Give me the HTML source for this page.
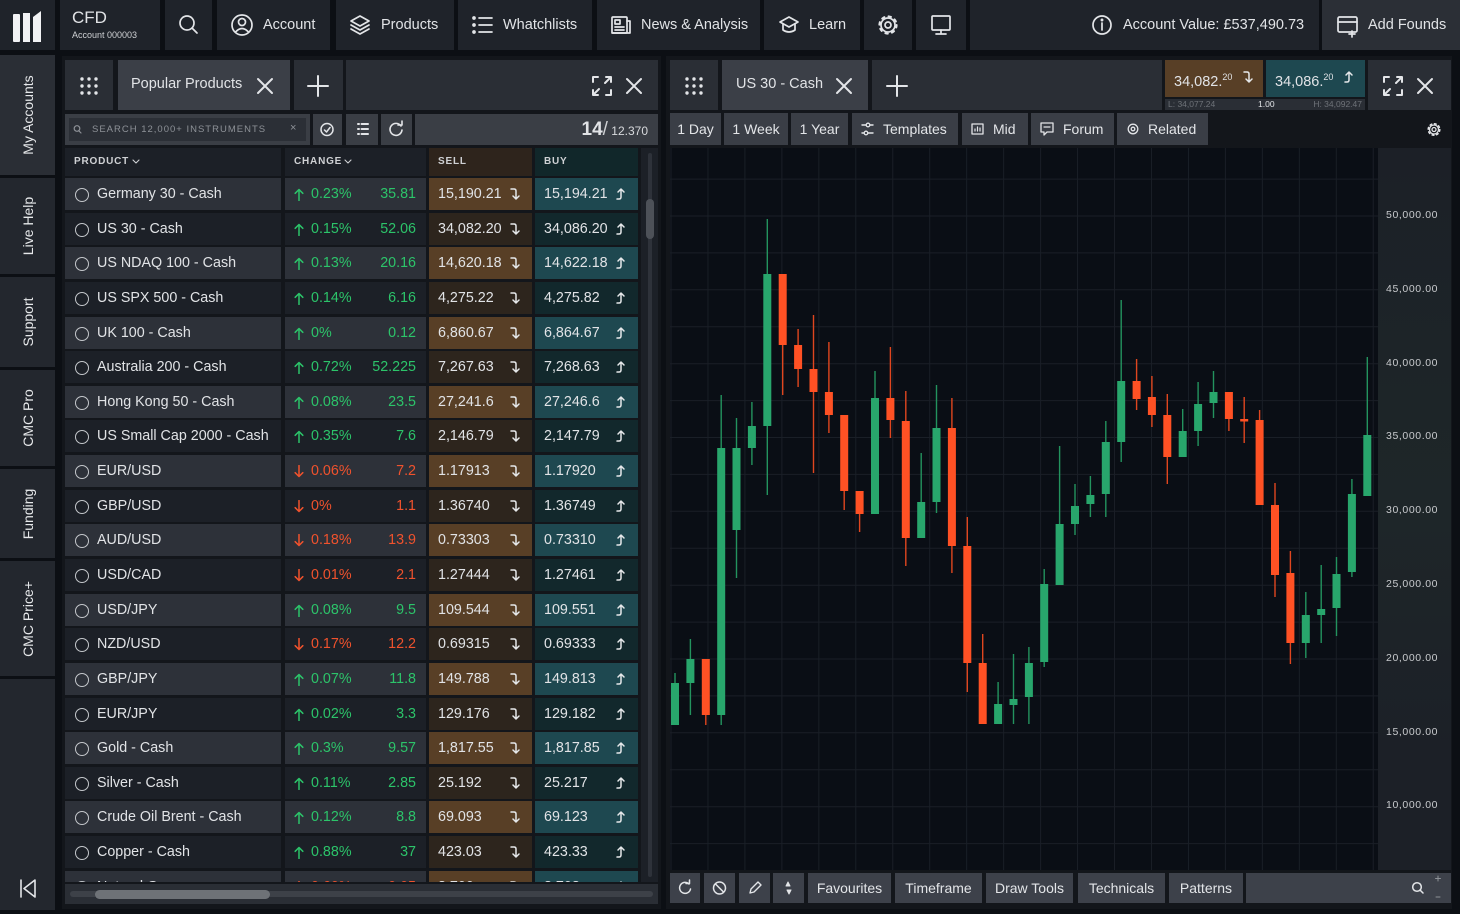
<!DOCTYPE html>
<html><head><meta charset="utf-8">
<style>
*{margin:0;padding:0;box-sizing:border-box}
body{width:1460px;height:914px;background:#0c0f14;font-family:"Liberation Sans",Arial,sans-serif;color:#e1e3e6;position:relative;overflow:hidden}
.a{position:absolute}
.nv{position:absolute;top:0;height:50px;background:#1f232a;font-size:14.5px;line-height:50px;white-space:nowrap}
.bx{position:absolute;background:#2a2e35}
.btn{position:absolute;background:#3a3e46;font-size:14px;line-height:32px;color:#e3e5e8;white-space:nowrap;text-align:center}
.sb{position:absolute;left:0;width:55px;background:#23272e}
.sb span{position:absolute;left:50%;top:50%;transform:translate(-50%,-50%) rotate(-90deg);white-space:nowrap;font-size:14px;color:#e6e8ea}
.rows{position:absolute;left:65px;top:178px;width:573px;height:704px;overflow:hidden}
.r{position:absolute;left:0;width:573px;height:32px}
.r>div{position:absolute;top:0;height:32px;line-height:32px;font-size:14.3px;white-space:nowrap}
.p{left:0;width:216px;padding-left:32px}
.p::before{content:"";position:absolute;left:10px;top:10px;width:12px;height:12px;border:1.5px solid #c4c7cb;border-radius:50%}
.c{left:220px;width:141px;padding-left:26px}
.c svg{position:absolute;left:9px;top:10px;width:10px;height:13px}
.c b{position:absolute;right:10px;font-weight:normal}
.s{left:364px;width:103px;padding-left:9px}
.b{left:470px;width:103px;padding-left:9px}
.s svg,.b svg{position:absolute;left:81px;top:9px;width:10px;height:14px}
.L .p,.L .c{background:#2d3139}.L .s{background:#583f26}.L .b{background:#1e4850}
.D .p,.D .c{background:#1c2027}.D .s{background:#2d251d}.D .b{background:#12282c}
.g{color:#2cc46a}.rd{color:#f0522d}
.hd{position:absolute;top:148px;height:28px;line-height:28px;font-size:10px;font-weight:bold;letter-spacing:0.8px;color:#cfd1d4;padding-left:9px}
.yl{position:absolute;left:1386px;font-size:10.5px;letter-spacing:0.6px;color:#c8cacd}
</style></head><body>
<svg width="0" height="0" style="position:absolute">
<defs>
<symbol id="sa" viewBox="0 0 10 14"><path d="M1 2H4Q6 2 6 4V12M3 9L6 12L9 9" fill="none" stroke="#e6e8ea" stroke-width="1.5" stroke-linecap="round" stroke-linejoin="round"/></symbol>
<symbol id="ba" viewBox="0 0 10 14"><path d="M1 12H3Q5 12 5 10V2M2 5L5 2L8 5" fill="none" stroke="#e6e8ea" stroke-width="1.5" stroke-linecap="round" stroke-linejoin="round"/></symbol>
<symbol id="up" viewBox="0 0 10 13"><path d="M5 1.5V12.5M1.2 5.3L5 1.5L8.8 5.3" fill="none" stroke="currentColor" stroke-width="1.5" stroke-linecap="round" stroke-linejoin="round"/></symbol>
<symbol id="dn" viewBox="0 0 10 13"><path d="M5 0.5V11.5M1.2 7.7L5 11.5L8.8 7.7" fill="none" stroke="currentColor" stroke-width="1.5" stroke-linecap="round" stroke-linejoin="round"/></symbol>
</defs></svg>

<!-- NAV -->
<div class="nv" style="left:0;width:55px"></div>
<div class="nv" style="left:60px;width:100px"><div class="a" style="left:12px;top:9px;font-size:17px;line-height:18px">CFD</div><div class="a" style="left:12px;top:30px;font-size:9px;line-height:10px;color:#cfd1d4">Account 000003</div></div>
<div class="nv" style="left:165px;width:47px"></div>
<div class="nv" style="left:217px;width:113px"><span class="a" style="left:46px">Account</span></div>
<div class="nv" style="left:336px;width:118px"><span class="a" style="left:45px">Products</span></div>
<div class="nv" style="left:458px;width:134px"><span class="a" style="left:45px">Whatchlists</span></div>
<div class="nv" style="left:597px;width:163px"><span class="a" style="left:44px">News &amp; Analysis</span></div>
<div class="nv" style="left:764px;width:96px"><span class="a" style="left:45px">Learn</span></div>
<div class="nv" style="left:864px;width:48px"></div>
<div class="nv" style="left:916px;width:50px"></div>
<div class="nv" style="left:970px;width:349px"><span class="a" style="left:153px">Account Value: £537,490.73</span></div>
<div class="nv" style="left:1322px;width:138px;background:#2b2f36"><span class="a" style="left:46px">Add Founds</span></div>

<!-- SIDEBAR -->
<div class="sb" style="top:55px;height:120px;background:#2a2e35"><span>My Accounts</span></div>
<div class="sb" style="top:178px;height:96px"><span>Live Help</span></div>
<div class="sb" style="top:277px;height:90px"><span>Support</span></div>
<div class="sb" style="top:370px;height:96px"><span>CMC Pro</span></div>
<div class="sb" style="top:469px;height:89px"><span>Funding</span></div>
<div class="sb" style="top:561px;height:115px"><span>CMC Price+</span></div>
<div class="sb" style="top:679px;height:231px"></div>

<!-- LEFT PANEL -->
<div class="a" style="left:62px;top:56px;width:599px;height:853px;background:#13161b"></div>
<div class="bx" style="left:65px;top:60px;width:48px;height:50px"></div>
<div class="bx" style="left:118px;top:60px;width:172px;height:50px;background:#3b3f47"><span class="a" style="left:13px;top:16px;font-size:14.5px">Popular Products</span></div>
<div class="bx" style="left:294px;top:60px;width:49px;height:50px"></div>
<div class="bx" style="left:346px;top:60px;width:312px;height:50px"></div>

<div class="bx" style="left:65px;top:114px;width:245px;height:31px;background:#3a3e45"></div>
<div class="bx" style="left:69px;top:118px;width:237px;height:23px;background:#2b2f36"><span class="a" style="left:23px;top:6px;font-size:9.5px;letter-spacing:1px;color:#8d9197">SEARCH 12,000+ INSTRUMENTS</span><span class="a" style="left:221px;top:4px;font-size:11px;color:#8d9197">×</span></div>
<div class="bx" style="left:313px;top:114px;width:29px;height:31px;background:#3a3e45"></div>
<div class="bx" style="left:346px;top:114px;width:32px;height:31px;background:#3a3e45"></div>
<div class="bx" style="left:381px;top:114px;width:31px;height:31px;background:#3a3e45"></div>
<div class="bx" style="left:415px;top:114px;width:243px;height:31px;background:#3a3e45"><span class="a" style="right:10px;top:5px;white-space:nowrap"><b style="font-size:19px">14</b><span style="font-size:19px;color:#cfd1d4">/</span><span style="font-size:12px;color:#d8dadd"> 12.370</span></span></div>

<div class="hd" style="left:65px;width:216px;background:#1c2027">PRODUCT</div>
<div class="hd" style="left:285px;width:141px;background:#1c2027">CHANGE</div>
<div class="hd" style="left:429px;width:103px;background:#2e241c">SELL</div>
<div class="hd" style="left:535px;width:103px;background:#11272a">BUY</div>
<div class="a" style="left:641px;top:148px;width:17px;height:734px;background:#1c2027"></div>

<div class="rows">
<div class="r L" style="top:0"><div class="p">Germany 30 - Cash</div><div class="c g"><svg><use href="#up"/></svg>0.23%<b>35.81</b></div><div class="s">15,190.21<svg><use href="#sa"/></svg></div><div class="b">15,194.21<svg><use href="#ba"/></svg></div></div>
<div class="r D" style="top:34.6px"><div class="p">US 30 - Cash</div><div class="c g"><svg><use href="#up"/></svg>0.15%<b>52.06</b></div><div class="s">34,082.20<svg><use href="#sa"/></svg></div><div class="b">34,086.20<svg><use href="#ba"/></svg></div></div>
<div class="r L" style="top:69.3px"><div class="p">US NDAQ 100 - Cash</div><div class="c g"><svg><use href="#up"/></svg>0.13%<b>20.16</b></div><div class="s">14,620.18<svg><use href="#sa"/></svg></div><div class="b">14,622.18<svg><use href="#ba"/></svg></div></div>
<div class="r D" style="top:103.9px"><div class="p">US SPX 500 - Cash</div><div class="c g"><svg><use href="#up"/></svg>0.14%<b>6.16</b></div><div class="s">4,275.22<svg><use href="#sa"/></svg></div><div class="b">4,275.82<svg><use href="#ba"/></svg></div></div>
<div class="r L" style="top:138.5px"><div class="p">UK 100 - Cash</div><div class="c g"><svg><use href="#up"/></svg>0%<b>0.12</b></div><div class="s">6,860.67<svg><use href="#sa"/></svg></div><div class="b">6,864.67<svg><use href="#ba"/></svg></div></div>
<div class="r D" style="top:173.2px"><div class="p">Australia 200 - Cash</div><div class="c g"><svg><use href="#up"/></svg>0.72%<b>52.225</b></div><div class="s">7,267.63<svg><use href="#sa"/></svg></div><div class="b">7,268.63<svg><use href="#ba"/></svg></div></div>
<div class="r L" style="top:207.8px"><div class="p">Hong Kong 50 - Cash</div><div class="c g"><svg><use href="#up"/></svg>0.08%<b>23.5</b></div><div class="s">27,241.6<svg><use href="#sa"/></svg></div><div class="b">27,246.6<svg><use href="#ba"/></svg></div></div>
<div class="r D" style="top:242.4px"><div class="p">US Small Cap 2000 - Cash</div><div class="c g"><svg><use href="#up"/></svg>0.35%<b>7.6</b></div><div class="s">2,146.79<svg><use href="#sa"/></svg></div><div class="b">2,147.79<svg><use href="#ba"/></svg></div></div>
<div class="r L" style="top:277px"><div class="p">EUR/USD</div><div class="c rd"><svg><use href="#dn"/></svg>0.06%<b>7.2</b></div><div class="s">1.17913<svg><use href="#sa"/></svg></div><div class="b">1.17920<svg><use href="#ba"/></svg></div></div>
<div class="r D" style="top:311.7px"><div class="p">GBP/USD</div><div class="c rd"><svg><use href="#dn"/></svg>0%<b>1.1</b></div><div class="s">1.36740<svg><use href="#sa"/></svg></div><div class="b">1.36749<svg><use href="#ba"/></svg></div></div>
<div class="r L" style="top:346.3px"><div class="p">AUD/USD</div><div class="c rd"><svg><use href="#dn"/></svg>0.18%<b>13.9</b></div><div class="s">0.73303<svg><use href="#sa"/></svg></div><div class="b">0.73310<svg><use href="#ba"/></svg></div></div>
<div class="r D" style="top:380.9px"><div class="p">USD/CAD</div><div class="c rd"><svg><use href="#dn"/></svg>0.01%<b>2.1</b></div><div class="s">1.27444<svg><use href="#sa"/></svg></div><div class="b">1.27461<svg><use href="#ba"/></svg></div></div>
<div class="r L" style="top:415.6px"><div class="p">USD/JPY</div><div class="c g"><svg><use href="#up"/></svg>0.08%<b>9.5</b></div><div class="s">109.544<svg><use href="#sa"/></svg></div><div class="b">109.551<svg><use href="#ba"/></svg></div></div>
<div class="r D" style="top:450.2px"><div class="p">NZD/USD</div><div class="c rd"><svg><use href="#dn"/></svg>0.17%<b>12.2</b></div><div class="s">0.69315<svg><use href="#sa"/></svg></div><div class="b">0.69333<svg><use href="#ba"/></svg></div></div>
<div class="r L" style="top:484.8px"><div class="p">GBP/JPY</div><div class="c g"><svg><use href="#up"/></svg>0.07%<b>11.8</b></div><div class="s">149.788<svg><use href="#sa"/></svg></div><div class="b">149.813<svg><use href="#ba"/></svg></div></div>
<div class="r D" style="top:519.5px"><div class="p">EUR/JPY</div><div class="c g"><svg><use href="#up"/></svg>0.02%<b>3.3</b></div><div class="s">129.176<svg><use href="#sa"/></svg></div><div class="b">129.182<svg><use href="#ba"/></svg></div></div>
<div class="r L" style="top:554.1px"><div class="p">Gold - Cash</div><div class="c g"><svg><use href="#up"/></svg>0.3%<b>9.57</b></div><div class="s">1,817.55<svg><use href="#sa"/></svg></div><div class="b">1,817.85<svg><use href="#ba"/></svg></div></div>
<div class="r D" style="top:588.7px"><div class="p">Silver - Cash</div><div class="c g"><svg><use href="#up"/></svg>0.11%<b>2.85</b></div><div class="s">25.192<svg><use href="#sa"/></svg></div><div class="b">25.217<svg><use href="#ba"/></svg></div></div>
<div class="r L" style="top:623.3px"><div class="p">Crude Oil Brent - Cash</div><div class="c g"><svg><use href="#up"/></svg>0.12%<b>8.8</b></div><div class="s">69.093<svg><use href="#sa"/></svg></div><div class="b">69.123<svg><use href="#ba"/></svg></div></div>
<div class="r D" style="top:658px"><div class="p">Copper - Cash</div><div class="c g"><svg><use href="#up"/></svg>0.88%<b>37</b></div><div class="s">423.03<svg><use href="#sa"/></svg></div><div class="b">423.33<svg><use href="#ba"/></svg></div></div>
<div class="r L" style="top:692.6px"><div class="p">Natural Gas</div><div class="c rd"><svg><use href="#dn"/></svg>0.60%<b>0.05</b></div><div class="s">3.700<svg><use href="#sa"/></svg></div><div class="b">3.708<svg><use href="#ba"/></svg></div></div>
</div>
<div class="a" style="left:65px;top:884px;width:593px;height:20px;background:#2a2e35"></div>
<div class="a" style="left:70px;top:891px;width:583px;height:6px;border-radius:3px;background:#3d4148"></div>
<div class="a" style="left:95px;top:890px;width:175px;height:9px;border-radius:5px;background:#6e7277"></div>

<!-- RIGHT PANEL -->
<div class="a" style="left:666px;top:56px;width:786px;height:853px;background:#13161b"></div>
<div class="bx" style="left:670px;top:60px;width:48px;height:50px"></div>
<div class="bx" style="left:722px;top:60px;width:146px;height:50px;background:#3b3f47"><span class="a" style="left:14px;top:16px;font-size:14.5px;white-space:nowrap">US 30 - Cash</span></div>
<div class="bx" style="left:872px;top:60px;width:290px;height:50px"></div>
<div class="a" style="left:1165px;top:60px;width:98px;height:37px;background:#583f26;font-size:14.5px;line-height:34px;padding-left:9px;white-space:nowrap">34,082.<sup style="font-size:9px">20</sup><svg style="position:absolute;left:78px;top:10px;width:10px;height:14px"><use href="#sa"/></svg></div>
<div class="a" style="left:1266px;top:60px;width:99px;height:37px;background:#1e4850;font-size:14.5px;line-height:34px;padding-left:9px;white-space:nowrap">34,086.<sup style="font-size:9px">20</sup><svg style="position:absolute;left:78px;top:10px;width:10px;height:14px"><use href="#ba"/></svg></div>
<div class="a" style="left:1165px;top:99px;width:200px;height:11px;background:#2a2e35;font-size:8.5px;line-height:11px;color:#6e7278;white-space:nowrap"><span class="a" style="left:3px">L: 34,077.24</span><span class="a" style="left:93px;color:#e3e5e8">1.00</span><span class="a" style="right:3px">H: 34,092.47</span></div>
<div class="bx" style="left:1368px;top:60px;width:83px;height:50px"></div>

<div class="btn" style="left:670px;top:113px;width:51px">1 Day</div>
<div class="btn" style="left:724px;top:113px;width:64px">1 Week</div>
<div class="btn" style="left:791px;top:113px;width:57px">1 Year</div>
<div class="btn" style="left:852px;top:113px;width:106px;text-align:left;padding-left:31px">Templates</div>
<div class="btn" style="left:962px;top:113px;width:66px;text-align:left;padding-left:31px">Mid</div>
<div class="btn" style="left:1031px;top:113px;width:83px;text-align:left;padding-left:32px">Forum</div>
<div class="btn" style="left:1117px;top:113px;width:91px;text-align:left;padding-left:31px">Related</div>
<div class="btn" style="left:1211px;top:113px;width:240px"></div>

<div class="a" style="left:670px;top:148px;width:708px;height:722px;background:#0a0e15"></div>
<div class="a" style="left:1378px;top:148px;width:73px;height:722px;background:linear-gradient(180deg,#1c2027 0%,#1d2528 35%,#1e2629 50%,#1c2027 85%)"></div>
<div class="yl" style="top:209px">50,000.00</div>
<div class="yl" style="top:283px">45,000.00</div>
<div class="yl" style="top:357px">40,000.00</div>
<div class="yl" style="top:430px">35,000.00</div>
<div class="yl" style="top:504px">30,000.00</div>
<div class="yl" style="top:578px">25,000.00</div>
<div class="yl" style="top:652px">20,000.00</div>
<div class="yl" style="top:726px">15,000.00</div>
<div class="yl" style="top:799px">10,000.00</div>

<div class="btn" style="left:670px;top:873px;width:30px;height:30px;background:#3d414a"></div>
<div class="btn" style="left:704px;top:873px;width:31px;height:30px;background:#3d414a"></div>
<div class="btn" style="left:739px;top:873px;width:31px;height:30px;background:#3d414a"></div>
<div class="btn" style="left:773px;top:873px;width:31px;height:30px;background:#3d414a"></div>
<div class="btn" style="left:808px;top:873px;width:83px;height:30px;line-height:30px;background:#3d414a">Favourites</div>
<div class="btn" style="left:895px;top:873px;width:87px;height:30px;line-height:30px;background:#3d414a">Timeframe</div>
<div class="btn" style="left:986px;top:873px;width:87px;height:30px;line-height:30px;background:#3d414a">Draw Tools</div>
<div class="btn" style="left:1078px;top:873px;width:87px;height:30px;line-height:30px;background:#3d414a">Technicals</div>
<div class="btn" style="left:1169px;top:873px;width:74px;height:30px;line-height:30px;background:#3d414a">Patterns</div>
<div class="btn" style="left:1246px;top:873px;width:205px;height:30px;background:#3d414a"></div>

<!-- CHART + ICONS OVERLAY -->
<svg class="a" style="left:0;top:0" width="1460" height="914" viewBox="0 0 1460 914">
<defs><clipPath id="cp"><rect x="670" y="148" width="708" height="722"/></clipPath></defs>
<g clip-path="url(#cp)">
<g stroke="#1a1f27" stroke-width="1">
<path d="M671 148V870M707.96 148V870M744.92 148V870M781.88 148V870M818.84 148V870M855.8 148V870M892.76 148V870M929.72 148V870M966.68 148V870M1003.64 148V870M1040.6 148V870M1077.56 148V870M1114.52 148V870M1151.48 148V870M1188.44 148V870M1225.4 148V870M1262.36 148V870M1299.32 148V870M1336.28 148V870M1373.24 148V870"/>
<path d="M670 179.1H1378M670 216H1378M670 252.9H1378M670 289.8H1378M670 326.7H1378M670 363.7H1378M670 400.6H1378M670 437.5H1378M670 474.4H1378M670 511.3H1378M670 548.2H1378M670 585.2H1378M670 622.1H1378M670 659H1378M670 695.9H1378M670 732.8H1378M670 769.8H1378M670 806.7H1378M670 843.6H1378"/>
</g>
<path stroke="#23935e" stroke-width="1.4" fill="none" d="M675 673V725M690.4 639V715M721.2 395V725M736.5 418V578M751.9 402V465M767.3 219V495M875 371V514M921.2 453V538M936.5 385V513M998.1 682V724M1013.5 654V724M1028.9 647V724M1044.2 569V667M1059.6 446V585M1075 484V535M1090.4 476V517M1105.8 421V517M1121.2 300V462M1182.7 409V457M1198.1 382V446M1213.5 371V418M1305.8 592V658M1321.2 565V643M1336.5 557V636M1351.9 479V577M1367.3 357V496"/>
<path stroke="#e0461f" stroke-width="1.4" fill="none" d="M705.8 659V725M782.7 274V395M798.1 329V387M813.5 315V473M828.9 342V433M844.2 415V510M859.6 491V532M890.4 347V438M905.8 391V566M951.9 398V573M967.3 517V692M982.7 634V724M1136.6 359V410M1151.9 376V427M1167.3 394V484M1228.9 392V431M1244.2 397V443M1259.6 410V505M1275 483V597M1290.4 551V664"/>
<g fill="#28a66c">
<rect x="671" y="683" width="8" height="42"/><rect x="686.4" y="659" width="8" height="24"/><rect x="717.2" y="448" width="8" height="267"/><rect x="732.5" y="448" width="8" height="82"/><rect x="747.9" y="426" width="8" height="22"/><rect x="763.3" y="274" width="8" height="152"/><rect x="871" y="398" width="8" height="116"/><rect x="917.2" y="502" width="8" height="36"/><rect x="932.5" y="428" width="8" height="74"/><rect x="994.1" y="704" width="8" height="20"/><rect x="1009.5" y="699" width="8" height="6"/><rect x="1024.9" y="663" width="8" height="34"/><rect x="1040.2" y="584" width="8" height="78"/><rect x="1055.6" y="524" width="8" height="61"/><rect x="1071" y="506" width="8" height="18"/><rect x="1086.4" y="495" width="8" height="9"/><rect x="1101.8" y="442" width="8" height="52"/><rect x="1117.2" y="381" width="8" height="61"/><rect x="1178.7" y="431" width="8" height="26"/><rect x="1194.1" y="404" width="8" height="27"/><rect x="1209.5" y="392" width="8" height="11"/><rect x="1301.8" y="615" width="8" height="28"/><rect x="1317.2" y="609" width="8" height="6"/><rect x="1332.5" y="574" width="8" height="34"/><rect x="1347.9" y="494" width="8" height="78"/><rect x="1363.3" y="435" width="8" height="61"/>
</g>
<g fill="#ff5124">
<rect x="701.8" y="659" width="8" height="56"/><rect x="778.7" y="274" width="8" height="71"/><rect x="794.1" y="345" width="8" height="24"/><rect x="809.5" y="369" width="8" height="23"/><rect x="824.9" y="392" width="8" height="23"/><rect x="840.2" y="415" width="8" height="76"/><rect x="855.6" y="491" width="8" height="23"/><rect x="886.4" y="398" width="8" height="22"/><rect x="901.8" y="421" width="8" height="117"/><rect x="947.9" y="428" width="8" height="118"/><rect x="963.3" y="546" width="8" height="117"/><rect x="978.7" y="663" width="8" height="61"/><rect x="1132.6" y="381" width="8" height="18"/><rect x="1147.9" y="397" width="8" height="18"/><rect x="1163.3" y="415" width="8" height="42"/><rect x="1224.9" y="392" width="8" height="27"/><rect x="1240.2" y="419" width="8" height="2.5"/><rect x="1255.6" y="420" width="8" height="85"/><rect x="1271" y="505" width="8" height="70"/><rect x="1286.4" y="573" width="8" height="70"/>
</g>
</g>

<!-- logo -->
<g fill="#f2f3f5"><rect x="13" y="14" width="7" height="28" rx="1"/><rect x="23" y="13" width="7" height="29"/><path d="M33 17L41 11V42H33Z"/></g>

<g stroke="#e3e5e8" stroke-width="1.7" fill="none" stroke-linecap="round" stroke-linejoin="round">
<!-- nav icons -->
<circle cx="187" cy="23" r="7"/><path d="M192 28L197 33"/>
<circle cx="242" cy="25" r="10"/><circle cx="242" cy="22" r="3.5"/><path d="M235.5 32Q242 25 248.5 32"/>
<path d="M360 16L369 21L360 26L351 21Z"/><path d="M351 25L360 30L369 25"/><path d="M351 29L360 34L369 29"/>
<path d="M479 18H492M479 25H492M479 32H492"/><circle cx="474" cy="18" r="1" fill="#e3e5e8"/><circle cx="474" cy="25" r="1" fill="#e3e5e8"/><circle cx="474" cy="32" r="1" fill="#e3e5e8"/>
<rect x="612" y="17" width="15" height="16" rx="1"/><path d="M627 21H630V33H612"/><rect x="615" y="20" width="5" height="4"/><path d="M615 27H624M615 30H624"/>
<path d="M780 22L789 17L798 22L789 27Z"/><path d="M783 24V30Q789 34 795 30V24"/>
<circle cx="888" cy="25" r="3"/><circle cx="888" cy="25" r="7"/><circle cx="888" cy="25" r="8.6" stroke-width="2" stroke-dasharray="2.5 4.3"/>
<rect x="932" y="16" width="18" height="14" rx="1"/><path d="M941 30V34M936 34H946"/>
<circle cx="1102" cy="25" r="9"/><path d="M1102 23V30"/><circle cx="1102" cy="20" r="0.6" fill="#e3e5e8"/>
<rect x="1338" y="17" width="19" height="15" rx="1.5"/><path d="M1338 22H1357M1352 31V37M1349 34H1355"/>

<!-- panel header icons -->
<g fill="#e3e5e8" stroke="none">
<circle cx="82" cy="79" r="1.7"/><circle cx="89" cy="79" r="1.7"/><circle cx="96" cy="79" r="1.7"/><circle cx="82" cy="86" r="1.7"/><circle cx="89" cy="86" r="1.7"/><circle cx="96" cy="86" r="1.7"/><circle cx="82" cy="93" r="1.7"/><circle cx="89" cy="93" r="1.7"/><circle cx="96" cy="93" r="1.7"/>
<circle cx="687" cy="79" r="1.7"/><circle cx="694" cy="79" r="1.7"/><circle cx="701" cy="79" r="1.7"/><circle cx="687" cy="86" r="1.7"/><circle cx="694" cy="86" r="1.7"/><circle cx="701" cy="86" r="1.7"/><circle cx="687" cy="93" r="1.7"/><circle cx="694" cy="93" r="1.7"/><circle cx="701" cy="93" r="1.7"/>
</g>
<path d="M258 79L272 93M272 79L258 93" stroke-width="2"/>
<path d="M318 76V96M308 86H328" stroke-width="2"/>
<path d="M593 82V77H598M606 77H611V82M611 90V95H606M598 95H593V90M594 94L599 89M610 78L605 83" stroke-width="2"/>
<path d="M627 79L641 93M641 79L627 93" stroke-width="2"/>
<path d="M837 79L851 93M851 79L837 93" stroke-width="2"/>
<path d="M897 76V96M887 86H907" stroke-width="2"/>
<path d="M1384 82V77H1389M1397 77H1402V82M1402 90V95H1397M1389 95H1384V90M1385 94L1390 89M1401 78L1396 83" stroke-width="2"/>
<path d="M1418 79L1432 93M1432 79L1418 93" stroke-width="2"/>

<!-- search row icons -->
<circle cx="77" cy="128.5" r="2.8" stroke="#8d9197" stroke-width="1.2"/><path d="M79 131L81 133" stroke="#8d9197" stroke-width="1.2"/>
<circle cx="327" cy="129.5" r="6" stroke-width="1.5"/><path d="M324.5 130L326.5 132L330 127.5" stroke-width="1.5"/>
<path d="M358 124H359M358 129H359M358 134H359M361.5 124H368M361.5 129H368M361.5 134H368" stroke-width="2"/>
<path d="M401 126A6 6 0 1 0 402 130" stroke-width="1.6"/><path d="M398 125H402V121" stroke-width="1.6"/>

<!-- column chevrons -->
<path d="M133 160L136 163L139 160M345 160L348 163L351 160" stroke="#cfd1d4" stroke-width="1.1"/>

<!-- toolbar icons -->
<path d="M862 125H866M870 125H873M862 133H864M868 133H873" stroke-width="1.4"/><circle cx="868" cy="125" r="1.8" stroke-width="1.3"/><circle cx="866" cy="133" r="1.8" stroke-width="1.3"/>
<rect x="972" y="124" width="11" height="10" stroke-width="1.3"/><path d="M975 131V129M977.5 131V127M980 131V128" stroke-width="1.2"/>
<path d="M1041 123H1053V132H1047L1044 135V132H1041Z" stroke-width="1.3"/><path d="M1044 127H1050" stroke-width="1.2"/>
<circle cx="1133" cy="129" r="4.8" stroke-width="1.3"/><circle cx="1133" cy="129" r="1.8" stroke-width="1.3"/>
<circle cx="1434" cy="129.5" r="2" stroke-width="1.3"/><circle cx="1434" cy="129.5" r="4.5" stroke-width="1.3"/><circle cx="1434" cy="129.5" r="5.8" stroke-width="1.5" stroke-dasharray="1.8 2.8"/>

<!-- bottom toolbar icons -->
<path d="M689 884A5.5 5.5 0 1 0 690.5 889" stroke-width="1.5"/><path d="M686 883.5H689.5V880" stroke-width="1.5"/>
<circle cx="719.5" cy="888" r="6" stroke-width="1.5"/><path d="M715.5 884L723.5 892" stroke-width="1.5"/>
<path d="M750 893L751 889L758 882L761 885L754 892Z" stroke-width="1.4"/>
<path d="M786 886L788 882L790 886Z M787 890L789 894L791 890Z" fill="#e3e5e8" stroke-width="1"/>
<circle cx="1417" cy="887" r="4.3" stroke-width="1.5"/><path d="M1420 890L1423 893" stroke-width="1.5"/>
<path d="M1438 876V881M1435.5 878.5H1440.5M1436 897H1440" stroke="#8d9197" stroke-width="1"/>

<!-- sidebar collapse -->
<path d="M21 880V897M35 880L24 888.5L35 897Z" stroke-width="1.6"/>

<!-- vertical scrollbar -->
<path d="M650 155V875" stroke="#2e323a" stroke-width="4"/>
<path d="M650 203V235" stroke="#4d5158" stroke-width="8"/>
</g>
</svg>
</body></html>
